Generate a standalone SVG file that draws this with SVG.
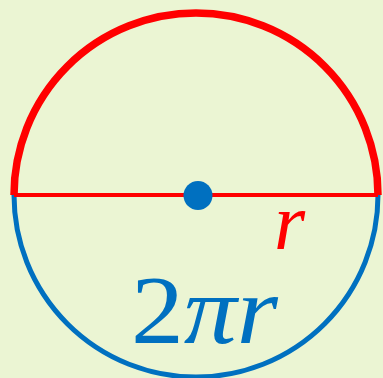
<svg xmlns="http://www.w3.org/2000/svg" width="383" height="378" viewBox="0 0 383 378">
<style>
.math{font-family:"Liberation Serif","DejaVu Serif",serif;}
</style>
<rect width="383" height="378" fill="#EBF5D3"/>
<g id="circle">
<path d="M14 195 A182 182 0 0 0 378 195" fill="none" stroke="#0070C0" stroke-width="5"/>
<path d="M14 195 A182 182 0 0 1 378 195" fill="none" stroke="#FF0000" stroke-width="7.5"/>
</g>
<g id="connectors">
<line x1="14" y1="195" x2="378" y2="195" stroke="#FF0000" stroke-width="4"/>
</g>
<g id="center">
<circle cx="198" cy="195.5" r="14.5" fill="#0070C0"/>
</g>
<g id="label-r">
<text class="math" x="274" y="249" font-size="80" font-style="italic" fill="#FF0000">r</text>
</g>
<g id="label-2pir">
<text class="math" x="131" y="343" font-size="98" fill="#0070C0" textLength="147" lengthAdjust="spacingAndGlyphs">2<tspan font-style="italic">πr</tspan></text>
</g>
</svg>
